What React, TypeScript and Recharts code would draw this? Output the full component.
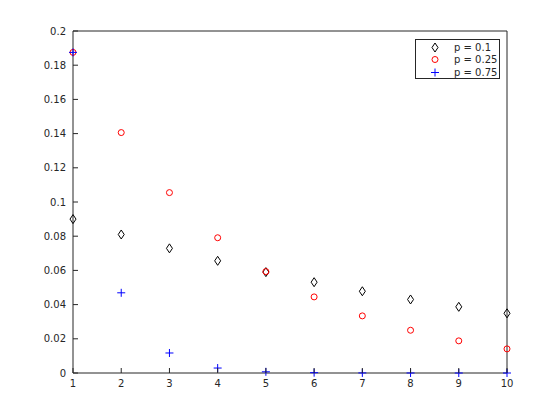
import { ScatterChart, Scatter, XAxis, YAxis } from "recharts";

const ks = [1, 2, 3, 4, 5, 6, 7, 8, 9, 10];
const p10 = [0.09, 0.081, 0.0729, 0.0656, 0.059, 0.0531, 0.0478, 0.043, 0.0387, 0.0349];
const p25 = [0.1875, 0.1406, 0.1055, 0.0791, 0.0593, 0.0445, 0.0334, 0.025, 0.0188, 0.0141];
const p75 = [0.1875, 0.0469, 0.0117, 0.0029, 0.0007, 0.0002, 0.00005, 0.00001, 0, 0];
const xTicks = [1, 2, 3, 4, 5, 6, 7, 8, 9, 10];
const yTicks = [0, 0.02, 0.04, 0.06, 0.08, 0.1, 0.12, 0.14, 0.16, 0.18, 0.2];

const toPoints = (vals: number[]) => ks.map((k, i) => ({ x: k, y: vals[i] }));

const AXIS = "#262626";
const FONT = "DejaVu Sans, sans-serif";

const Diamond = (props: any) => {
  const { cx, cy } = props;
  return (
    <polygon
      points={`${cx},${cy - 4.5} ${cx + 3},${cy} ${cx},${cy + 4.5} ${cx - 3},${cy}`}
      fill="none"
      stroke="#000"
      strokeWidth={1}
    />
  );
};

const Circ = (props: any) => {
  const { cx, cy } = props;
  return <circle cx={cx} cy={cy} r={3} fill="none" stroke="#ff0000" strokeWidth={1} />;
};

const Plus = (props: any) => {
  const { cx, cy } = props;
  return (
    <g stroke="#0000ff" strokeWidth={1}>
      <line x1={cx - 4} y1={cy} x2={cx + 4} y2={cy} />
      <line x1={cx} y1={cy - 4} x2={cx} y2={cy + 4} />
    </g>
  );
};

const BottomTick = (props: any) => {
  const { x, y, payload } = props;
  return (
    <g>
      <line x1={x} y1={y} x2={x} y2={y - 5} stroke={AXIS} />
      <text x={x} y={y + 14} textAnchor="middle" fontSize={10} fontFamily={FONT} fill={AXIS}>
        {payload.value}
      </text>
    </g>
  );
};

const TopTick = (props: any) => {
  const { x, y } = props;
  return <line x1={x} y1={y} x2={x} y2={y + 5} stroke={AXIS} />;
};

const LeftTick = (props: any) => {
  const { x, y, payload } = props;
  return (
    <g>
      <line x1={x} y1={y} x2={x + 5} y2={y} stroke={AXIS} />
      <text x={x - 7} y={y} dy="0.35em" textAnchor="end" fontSize={10} fontFamily={FONT} fill={AXIS}>
        {payload.value}
      </text>
    </g>
  );
};

const RightTick = (props: any) => {
  const { x, y } = props;
  return <line x1={x} y1={y} x2={x - 5} y2={y} stroke={AXIS} />;
};

const legendItems = [
  { label: "p = 0.1", kind: "d" },
  { label: "p = 0.25", kind: "o" },
  { label: "p = 0.75", kind: "+" },
];

const LegendBox = () => (
  <div
    style={{
      position: "absolute",
      left: 415,
      top: 39,
      width: 85,
      height: 40,
      padding: "1px 0",
      border: `1px solid ${AXIS}`,
      background: "#fff",
      boxSizing: "border-box",
      fontFamily: FONT,
      fontSize: 10,
      color: AXIS,
    }}
  >
    {legendItems.map((it) => (
      <div key={it.label} style={{ display: "flex", alignItems: "center", height: 12.5 }}>
        <svg width={38} height={13}>
          {it.kind === "d" && <Diamond cx={19} cy={6.5} />}
          {it.kind === "o" && <Circ cx={19} cy={6.5} />}
          {it.kind === "+" && <Plus cx={19} cy={6.5} />}
        </svg>
        <span>{it.label}</span>
      </div>
    ))}
  </div>
);

export default function App() {
  return (
    <div style={{ position: "absolute", left: 0, top: 0, width: 560, height: 420, background: "#fff" }}>
      <ScatterChart width={560} height={420} margin={{ top: 30, right: 52, bottom: 46, left: 72 }}>
        <XAxis
          xAxisId="b"
          type="number"
          dataKey="x"
          domain={[1, 10]}
          ticks={xTicks}
          height={1}
          tickSize={0}
          tickMargin={0}
          tickLine={false}
          stroke={AXIS}
          tick={<BottomTick />}
          interval={0}
        />
        <XAxis
          xAxisId="t"
          orientation="top"
          type="number"
          dataKey="x"
          domain={[1, 10]}
          ticks={xTicks}
          height={1}
          tickSize={0}
          tickMargin={0}
          tickLine={false}
          stroke={AXIS}
          tick={<TopTick />}
          interval={0}
        />
        <YAxis
          yAxisId="l"
          type="number"
          dataKey="y"
          domain={[0, 0.2]}
          ticks={yTicks}
          width={1}
          tickSize={0}
          tickMargin={0}
          tickLine={false}
          stroke={AXIS}
          tick={<LeftTick />}
          interval={0}
        />
        <YAxis
          yAxisId="r"
          orientation="right"
          type="number"
          dataKey="y"
          domain={[0, 0.2]}
          ticks={yTicks}
          width={1}
          tickSize={0}
          tickMargin={0}
          tickLine={false}
          stroke={AXIS}
          tick={<RightTick />}
          interval={0}
        />
        <Scatter xAxisId="b" yAxisId="l" name="p = 0.1" data={toPoints(p10)} shape={<Diamond />} isAnimationActive={false} />
        <Scatter xAxisId="b" yAxisId="l" name="p = 0.25" data={toPoints(p25)} shape={<Circ />} isAnimationActive={false} />
        <Scatter xAxisId="b" yAxisId="l" name="p = 0.75" data={toPoints(p75)} shape={<Plus />} isAnimationActive={false} />
      </ScatterChart>
      <LegendBox />
    </div>
  );
}
